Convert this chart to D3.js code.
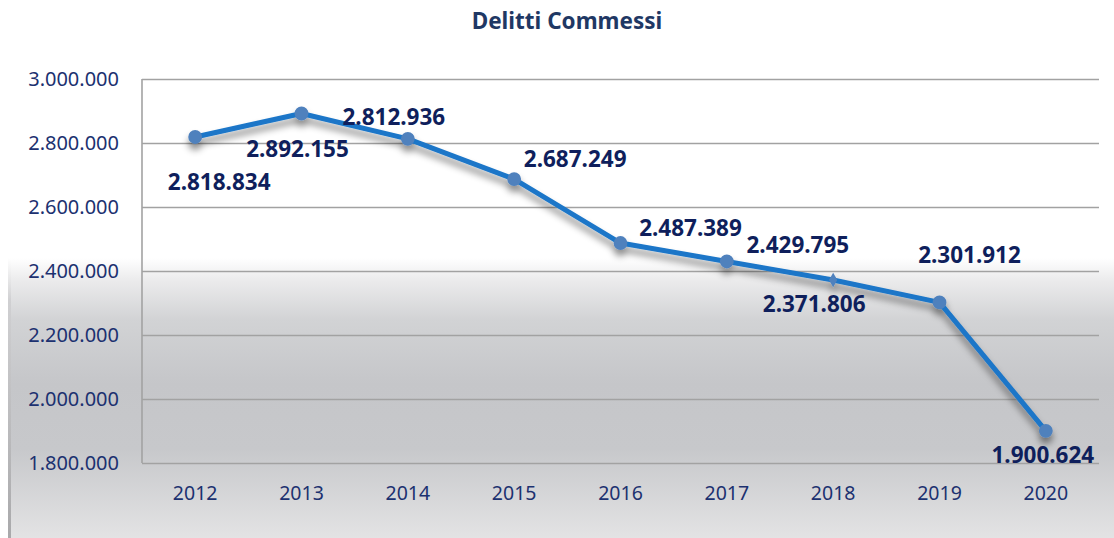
<!DOCTYPE html>
<html>
<head>
<meta charset="utf-8">
<script src="https://cdn.jsdelivr.net/npm/d3@7"></script>
<style>
  body { margin: 0; background: #fff; }
  svg { display: block; font-family: "Noto Sans", "Open Sans", sans-serif; }
</style>
</head>
<body>
<div id="container"></div>
<script>
// data
let years = ["2012", "2013", "2014", "2015", "2016", "2017", "2018", "2019", "2020"];
let delitti = [2818834, 2892155, 2812936, 2687249, 2487389, 2429795, 2371806, 2301912, 1900624];
let yTicks = [1800000, 2000000, 2200000, 2400000, 2600000, 2800000, 3000000];
let chartTitle = "Delitti Commessi";

// where each value label sits relative to its point (layout only)
let labelDx = [24, -4, -14, 61, 70, 71, -19, 30, -3];
let labelDy = [45, 35, -22, -20, -15, -16, 24, -47, 24];

let w = 1114;
let h = 538;
let plotLeft = 142, plotRight = 1099, plotTop = 79, plotBottom = 463;

let it = d3.formatLocale({ decimal: ",", thousands: ".", grouping: [3], currency: ["", "€"] });
let fmt = it.format(",d");

let viz = d3.select("#container")
  .append("svg")
    .attr("width", w)
    .attr("height", h);

let defs = viz.append("defs");

// grey slide background in the lower half
let bg = defs.append("linearGradient")
    .attr("id", "bggrad")
    .attr("x1", 0).attr("y1", 0).attr("x2", 0).attr("y2", 1);
bg.append("stop").attr("offset", "0%").attr("stop-color", "#ffffff");
bg.append("stop").attr("offset", "8%").attr("stop-color", "#ebebec");
bg.append("stop").attr("offset", "22%").attr("stop-color", "#d2d3d5");
bg.append("stop").attr("offset", "45%").attr("stop-color", "#c5c6c9");
bg.append("stop").attr("offset", "68%").attr("stop-color", "#c7c8cb");
bg.append("stop").attr("offset", "100%").attr("stop-color", "#e3e3e4");

let edge = defs.append("linearGradient")
    .attr("id", "edgegrad")
    .attr("x1", 0).attr("y1", 0).attr("x2", 0).attr("y2", 1);
edge.append("stop").attr("offset", "0%").attr("stop-color", "#ffffff");
edge.append("stop").attr("offset", "15%").attr("stop-color", "#d0d0d2");
edge.append("stop").attr("offset", "100%").attr("stop-color", "#a9a9ab");

let shadow = defs.append("filter")
    .attr("id", "shadow")
    .attr("x", "-10%").attr("y", "-20%")
    .attr("width", "120%").attr("height", "150%");
shadow.append("feDropShadow")
    .attr("dx", 0).attr("dy", 6)
    .attr("stdDeviation", 3.5)
    .attr("flood-color", "#000")
    .attr("flood-opacity", 0.45);

viz.append("rect")
    .attr("x", 11).attr("y", 258)
    .attr("width", w - 11).attr("height", h - 258)
    .attr("fill", "url(#bggrad)");
viz.append("rect")
    .attr("x", 8).attr("y", 258)
    .attr("width", 3).attr("height", h - 258)
    .attr("fill", "url(#edgegrad)");

// title
viz.append("text")
    .attr("x", 567).attr("y", 29)
    .attr("text-anchor", "middle")
    .attr("font-size", 22.5)
    .attr("font-weight", "bold")
    .attr("fill", "#1f3864")
    .text(chartTitle);

let xScale = d3.scaleBand().domain(years).range([plotLeft, plotRight]);
let yScale = d3.scaleLinear().domain([1800000, 3000000]).range([plotBottom, plotTop]);
let cx = function(d){ return xScale(d) + xScale.bandwidth() / 2; };

// gridlines + y labels
let yAxis = d3.axisLeft(yScale)
    .tickValues(yTicks)
    .tickSize(-(plotRight - plotLeft))
    .tickPadding(23)
    .tickFormat(fmt);
let yAxisGroup = viz.append("g")
    .attr("class", "yaxisgroup")
    .attr("transform", "translate(" + plotLeft + ",0)")
    .call(yAxis);
yAxisGroup.select(".domain").remove();
yAxisGroup.selectAll(".tick line")
    .attr("stroke", "#a2a2a2")
    .attr("stroke-width", 1.6);
yAxisGroup.selectAll(".tick text")
    .attr("font-size", 20)
    .attr("font-family", "Noto Sans, sans-serif")
    .attr("fill", "#1c3170");

viz.append("line")
    .attr("x1", plotLeft).attr("x2", plotLeft)
    .attr("y1", plotTop).attr("y2", plotBottom)
    .attr("stroke", "#a2a2a2")
    .attr("stroke-width", 1.6);

// x labels
let xAxis = d3.axisBottom(xScale).tickSize(0).tickPadding(23);
let xAxisGroup = viz.append("g")
    .attr("class", "xaxisgroup")
    .attr("transform", "translate(0," + plotBottom + ")")
    .call(xAxis);
xAxisGroup.select(".domain").remove();
xAxisGroup.selectAll(".tick text")
    .attr("font-size", 19.5)
    .attr("font-family", "Noto Sans, sans-serif")
    .attr("fill", "#1c3170");

// line + markers
let rows = years.map(function(y, i){ return { year: y, value: delitti[i] }; });

let lineMaker = d3.line()
    .x(function(d){ return cx(d.year); })
    .y(function(d){ return yScale(d.value); });

let graphGroup = viz.append("g")
    .attr("class", "graphGroup")
    .attr("filter", "url(#shadow)");

graphGroup.append("path")
    .datum(rows)
    .attr("d", lineMaker)
    .attr("fill", "none")
    .attr("stroke", "#1b76c8")
    .attr("stroke-width", 5)
    .attr("stroke-linejoin", "round");

graphGroup.selectAll(".dot").data(rows).enter()
  .append("path")
    .attr("class", "dot")
    .attr("transform", function(d){ return "translate(" + cx(d.year) + "," + yScale(d.value) + ")"; })
    .attr("d", function(d){
      if (d.year === "2018") return d3.symbol().type(d3.symbolDiamond).size(60)();
      return d3.symbol().type(d3.symbolCircle).size(150)();
    })
    .attr("fill", "#4f81bd");

// value labels
let labelSize = 22.5;
viz.selectAll(".vlabel").data(rows).enter()
  .append("text")
    .attr("class", "vlabel")
    .attr("x", function(d, i){ return cx(d.year) + labelDx[i]; })
    .attr("y", function(d, i){ return yScale(d.value) + labelDy[i] + labelSize * 0.357; })
    .attr("text-anchor", "middle")
    .attr("font-size", labelSize)
    .attr("font-weight", "bold")
    .attr("fill", "#0f1f5c")
    .text(function(d){ return fmt(d.value); });
</script>
</body>
</html>
